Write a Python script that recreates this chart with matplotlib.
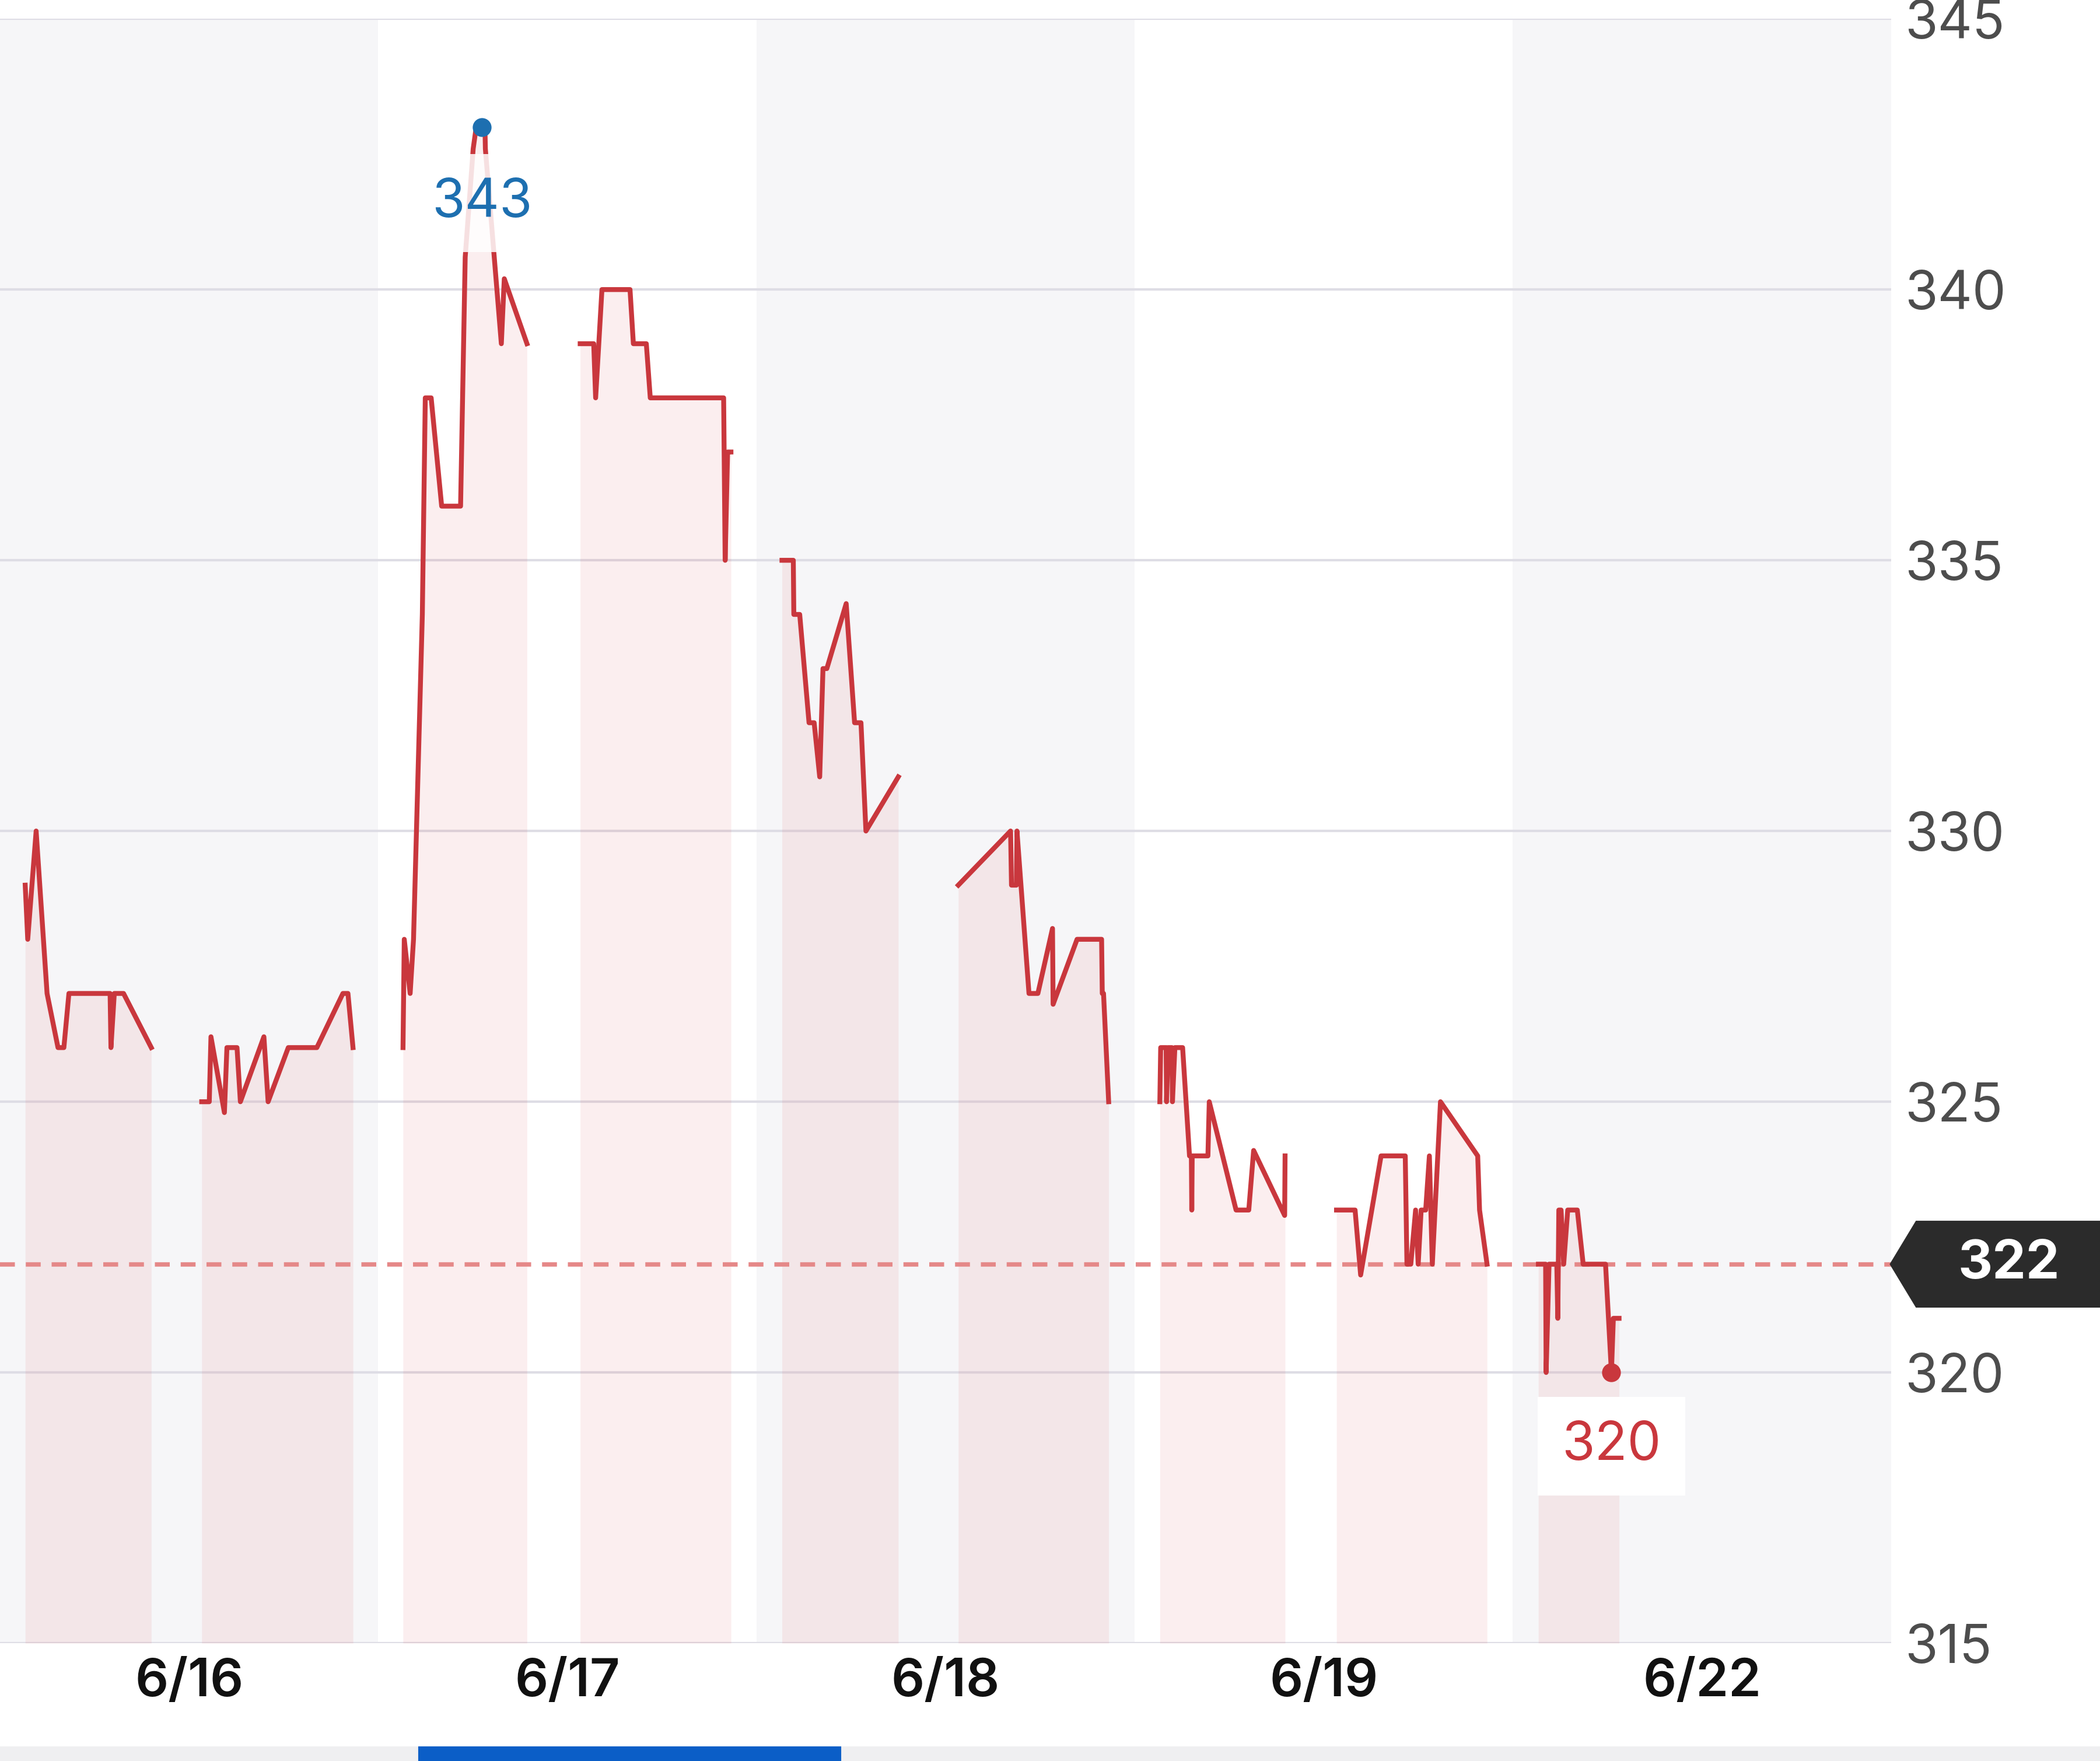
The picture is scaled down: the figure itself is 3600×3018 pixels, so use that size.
import matplotlib
matplotlib.use('Agg')
import matplotlib.pyplot as plt
import matplotlib.transforms as mtransforms
from matplotlib.patches import Polygon, Rectangle
import numpy as np

plt.rcParams['font.family'] = ['Inter', 'DejaVu Sans']

# x axis: minutes after 9:00 within each day, 9:00-16:30 shown per day
day_labels = ['6/16', '6/17', '6/18', '6/19', '6/22']
day_len = 450

# 6/16
d0_am_t = [30, 33, 43, 56, 69, 76, 82, 131, 132, 136, 147, 180]
d0_am_p = [329, 328, 330, 327, 326, 326, 327, 327, 326, 327, 327, 326]
d0_pm_t = [240, 249, 251, 267, 270, 282, 286, 314, 319, 343, 377, 408, 414, 420]
d0_pm_p = [325, 325, 326.2, 324.8, 326, 326, 325, 326.2, 325, 326, 326, 327, 327, 326]
# 6/17
d1_am_t = [29.5, 31, 38, 42, 52.5, 56, 63, 75.5, 98, 103.5, 113, 116.6, 127, 127.5, 146.5, 150, 177]
d1_am_p = [326, 328, 327, 328, 334, 338, 338, 336, 336, 340.6, 342.6, 343, 343, 342.6, 339, 340.2, 339]
d1_pm_t = [240.3, 256.4, 258.7, 266.2, 299.6, 303.6, 319, 323.7, 411, 412.8, 415.7, 419.7]
d1_pm_p = [339, 339, 338, 340, 340, 339, 339, 338, 338, 335, 337, 337]
# 6/18
d2_am_t = [30.4, 43.9, 44.5, 51.5, 62.6, 68.7, 75.3, 79.2, 83.8, 106.8, 116.8, 124.4, 130.3, 168.8]
d2_am_p = [335, 335, 334, 334, 332, 332, 331, 333, 333, 334.2, 332, 332, 330, 331]
d2_pm_t = [240.2, 302.4, 303.5, 309.3, 310, 324.3, 334.9, 352.3, 353, 381.5, 410.7, 411.5, 413, 419.1]
d2_pm_p = [329, 330, 329, 329, 330, 327, 327, 328.2, 326.8, 328, 328, 327, 327, 325]
# 6/19
d3_am_t = [30, 31, 37.5, 38, 39.8, 44.4, 45, 47.9, 57.1, 65.3, 67.5, 68, 68.5, 87.2, 88.8, 120.7, 135.8, 141.6, 178.5, 179]
d3_am_p = [325, 326, 326, 325, 326, 326, 325, 326, 326, 324, 324, 323, 324, 324, 325, 323, 323, 324.1, 322.9, 324]
d3_pm_t = [240.2, 262.3, 268.9, 293.2, 322, 324, 328.6, 334.3, 337.4, 340.9, 346.3, 350.7, 354.2, 363.9, 408.2, 410.4, 419.3]
d3_pm_p = [323, 323, 321.8, 324, 324, 322, 322, 323, 322, 323, 323, 324, 322, 325, 324, 323, 322]
# 6/22
d4_am_t = [30.4, 39, 39.6, 43.1, 52.3, 53.5, 54.7, 57.4, 60.5, 65.3, 76.7, 83.7, 110.3, 117.3, 119.6, 126.4]
d4_am_p = [322, 322, 320, 322, 322, 321, 323, 323, 322, 323, 323, 322, 322, 320, 321, 321]

prev_close = 322
high_day, high_min, high_price = 1, 123.4, 343
low_day, low_min, low_price = 4, 117.3, 320

yticks = [315, 320, 325, 330, 335, 340, 345]

sessions = [
    (0, d0_am_t, d0_am_p), (0, d0_pm_t, d0_pm_p),
    (1, d1_am_t, d1_am_p), (1, d1_pm_t, d1_pm_p),
    (2, d2_am_t, d2_am_p), (2, d2_pm_t, d2_pm_p),
    (3, d3_am_t, d3_am_p), (3, d3_pm_t, d3_pm_p),
    (4, d4_am_t, d4_am_p),
]

red = '#c9373d'
blue = '#1d6fb0'

fig = plt.figure(figsize=(12, 10.06), dpi=300)
ax = fig.add_axes([0, 0.0669, 0.9005, 0.9224])
ax.set_xlim(0, day_len * len(day_labels))
ax.set_ylim(315, 345)

# alternating day bands
for d in range(len(day_labels)):
    if d % 2 == 0:
        ax.axvspan(d * day_len, (d + 1) * day_len, color='#f6f6f8', lw=0, zorder=0)

for y in yticks:
    ax.axhline(y, color='#dedde5', lw=1.0, zorder=1)

for d, t, p in sessions:
    x = d * day_len + np.array(t)
    ax.fill_between(x, p, 315, color='#d9404a', alpha=0.085, lw=0, zorder=2)
    ax.plot(x, p, color=red, lw=2.0, zorder=4)

ax.axhline(prev_close, color='#e58888', lw=1.8, linestyle=(0, (3.4, 2.5)), zorder=3)

# high / low markers
hx = high_day * day_len + high_min
ax.scatter([hx], [high_price], s=60, color=blue, zorder=7, lw=0)
ax.text(hx, 341.6, str(high_price), color=blue, fontsize=22, ha='center', va='center', zorder=6,
        bbox=dict(boxstyle='square,pad=0.45', fc='white', ec='none', alpha=0.85))
lx = low_day * day_len + low_min
ax.scatter([lx], [low_price], s=60, color=red, zorder=7, lw=0)
ax.text(lx, 318.64, str(low_price), color=red, fontsize=22, ha='center', va='center', zorder=6,
        bbox=dict(boxstyle='square,pad=0.45', fc='white', ec='none'))

# axes styling
for s in ax.spines.values():
    s.set_visible(False)
ax.set_yticks(yticks)
ax.yaxis.tick_right()
ax.tick_params(axis='y', length=0, pad=5.5, labelsize=22, labelcolor='#4d4d4d')
ax.set_xticks([d * day_len + day_len / 2 for d in range(len(day_labels))])
ax.set_xticklabels(day_labels)
ax.tick_params(axis='x', length=0, pad=6, labelsize=21.5, labelcolor='#111111')
for lbl in ax.get_xticklabels():
    lbl.set_fontweight('semibold')

# current price tag on the right
trans = mtransforms.blended_transform_factory(ax.transAxes, ax.transData)
tag = Polygon([(1.0, prev_close), (1.0135, prev_close + 0.78), (1.12, prev_close + 0.78),
               (1.12, prev_close - 0.78), (1.0135, prev_close - 0.78)],
              closed=True, transform=trans, color='#2b2b2b', clip_on=False, zorder=8)
ax.add_patch(tag)
ax.text(1.0623, prev_close, str(prev_close), transform=trans, color='white', fontsize=22,
        fontweight='bold', ha='center', va='center', zorder=9, clip_on=False)

# bottom tab strip
fig.patches.append(Rectangle((0, 0), 1, 0.0076, transform=fig.transFigure, color='#efeff1', zorder=0))
fig.patches.append(Rectangle((0.1996, 0), 0.2003, 0.0076, transform=fig.transFigure, color='#0b5ec7', zorder=1))

fig.savefig('out.png', dpi=300)
